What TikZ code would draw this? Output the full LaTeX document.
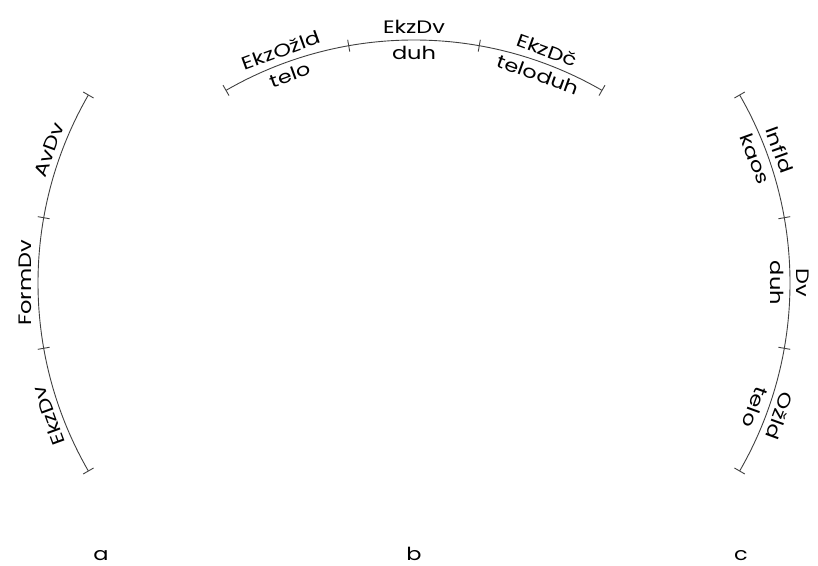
\documentclass[tikz,border=0pt]{standalone}
\usepackage{fontspec}
\setmainfont{Poppins}[FakeStretch=1.25]
\usetikzlibrary{calc}

\begin{document}
\begin{tikzpicture}[x=1pt,y=1pt,font=\fontsize{18}{21}\selectfont,
		arcline/.style={line width=0.9pt,black!75},
		outer/.style={anchor=south,inner sep=2pt},
		inner/.style={anchor=north,inner sep=2pt}]
		\useasboundingbox (0,0) rectangle (818,565);
		\coordinate (ca) at (414,282);
		\coordinate (cb) at (414,149);
		% the three arcs
		\draw[arcline] ($(ca)+(150:376pt)$) arc[start angle=150,end angle=210,radius=376pt];
		\draw[arcline] ($(cb)+(60:376pt)$) arc[start angle=60,end angle=120,radius=376pt];
		\draw[arcline] ($(ca)+(-30:376pt)$) arc[start angle=-30,end angle=30,radius=376pt];
		\foreach \t in {150,170,190,210,-30,-10,10,30}
			\draw[arcline] ($(ca)+(\t:370pt)$) -- ($(ca)+(\t:382pt)$);
		\foreach \t in {60,80,100,120}
			\draw[arcline] ($(cb)+(\t:370pt)$) -- ($(cb)+(\t:382pt)$);
		% a
		\node[outer,rotate=70] (a_av) at ($(ca)+(160:380pt)$) {AvDv};
		\node[outer,rotate=90] (a_form) at ($(ca)+(180:380pt)$) {FormDv};
		\node[outer,rotate=110] (a_ekz) at ($(ca)+(200:380pt)$) {EkzDv};
		% b
		\node[outer,rotate=20] (b_ozld) at ($(cb)+(110:380pt)$) {EkzOžld};
		\node[outer] (b_dv) at ($(cb)+(90:380pt)$) {EkzDv};
		\node[outer,rotate=-20] (b_dc) at ($(cb)+(70:380pt)$) {EkzDč};
		\node[inner,rotate=20] (b_telo) at ($(cb)+(110:372pt)$) {telo};
		\node[inner] (b_duh) at ($(cb)+(90:372pt)$) {duh};
		\node[inner,rotate=-20] (b_teloduh) at ($(cb)+(70:372pt)$) {teloduh};
		% c
		\node[outer,rotate=-70] (c_infld) at ($(ca)+(20:380pt)$) {Infld};
		\node[outer,rotate=-90] (c_dv) at ($(ca)+(0:380pt)$) {Dv};
		\node[outer,rotate=-110] (c_ozld) at ($(ca)+(-20:380pt)$) {Ožld};
		\node[inner,rotate=-70] (c_kaos) at ($(ca)+(20:372pt)$) {kaos};
		\node[inner,rotate=-90] (c_duh) at ($(ca)+(0:372pt)$) {duh};
		\node[inner,rotate=-110] (c_telo) at ($(ca)+(-20:372pt)$) {telo};
		% captions
		\node[anchor=base,inner sep=1pt] (cap_a) at (101,5) {a};
		\node[anchor=base,inner sep=1pt] (cap_b) at (414,5) {b};
		\node[anchor=base,inner sep=1pt] (cap_c) at (741,5) {c};
	\end{tikzpicture}
\end{document}
